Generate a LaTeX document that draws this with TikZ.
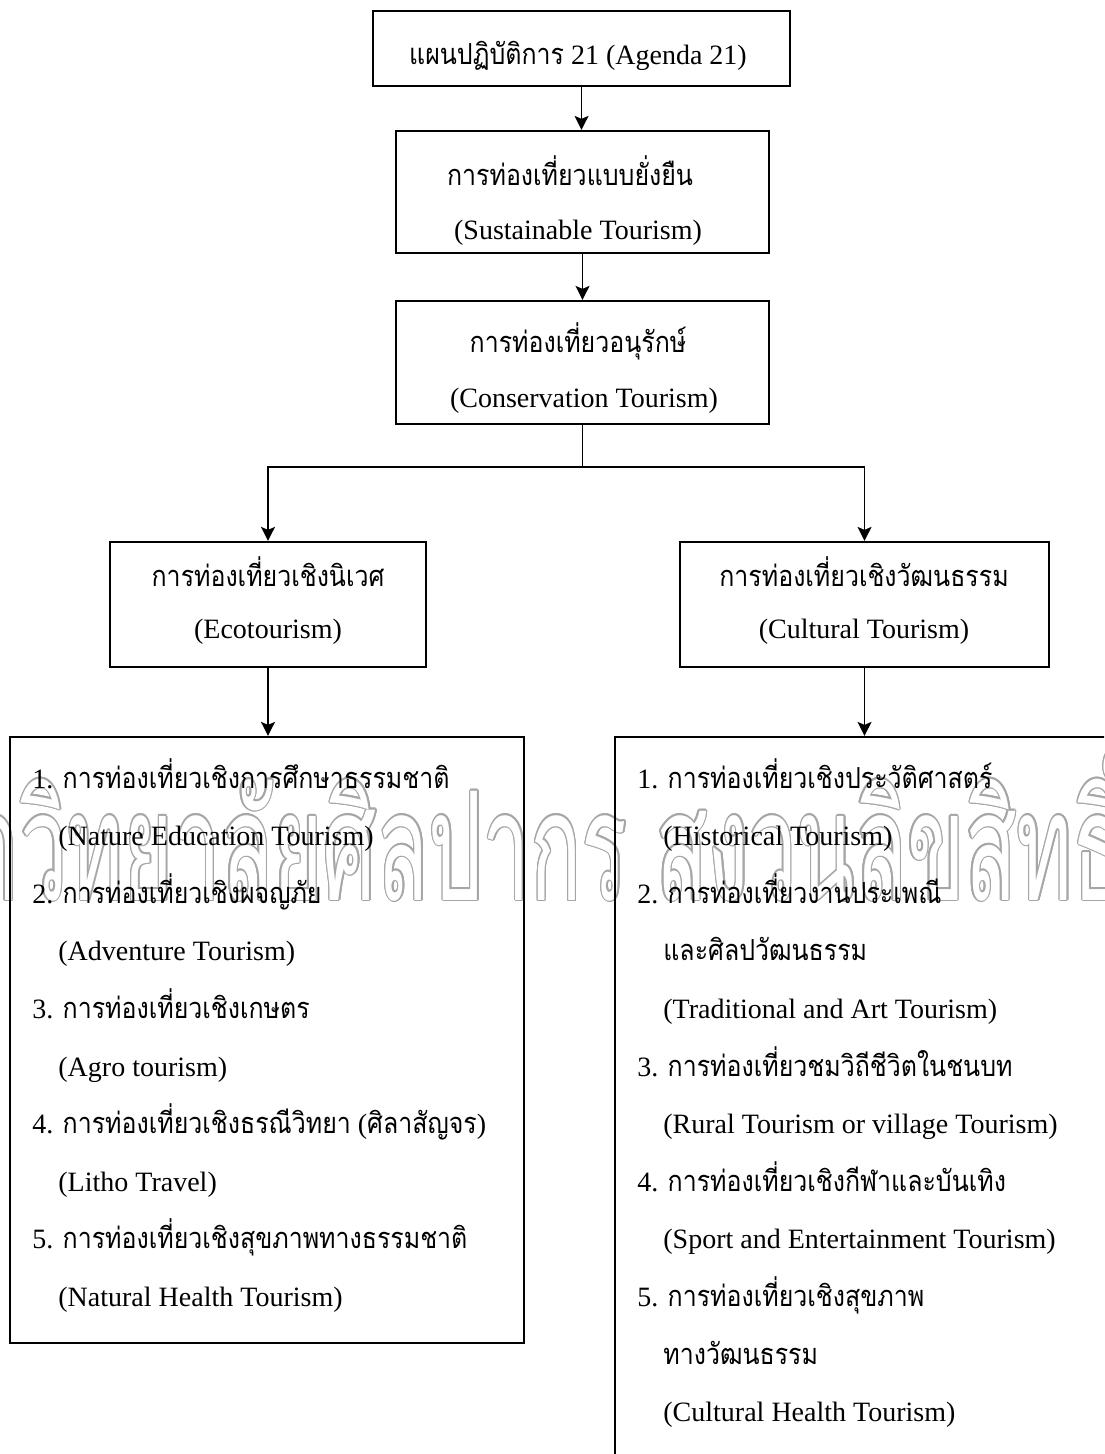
\documentclass[tikz,border=0pt]{standalone}
\usepackage{fontspec}
\usepackage{graphicx}
\setmainfont{Liberation Serif}
\newfontfamily\thaif[Script=Thai,FakeStretch=0.86]{Loma}
\newfontfamily\wmf[Script=Thai]{Loma}
\usetikzlibrary{arrows.meta}
\newcommand{\thtxt}[1]{{\thaif\fontsize{14.5}{17}\selectfont #1}}
\newcommand{\wmtext}{\resizebox{632pt}{80pt}{\wmf มหาวิทยาลัยศิลปากร สงวนลิขสิทธิ์}}
\tikzset{
 box/.style={draw, line width=1.1pt, rectangle, inner sep=0pt},
 conn/.style={line width=0.8pt},
 arr/.style={conn, -{Stealth[length=7pt,width=7pt,inset=1.5pt]}},
 txt/.style={inner sep=0pt, font=\fontsize{14}{17}\selectfont},
 ctxt/.style={txt, anchor=base},
 ltxt/.style={txt, anchor=base west},
 wmark/.style={inner sep=0pt, anchor=base west},
}
\begin{document}
\begin{tikzpicture}[x=0.5pt,y=-0.5pt]
\useasboundingbox (0,0) rectangle (1104,1454);
\clip (0,0) rectangle (1104,1454);
% watermark
\coordinate (wm) at (-140,900);
\foreach \a in {0,30,...,330} {
  \node[wmark, text=black!35, shift={(\a:0.7pt)}] at (wm) {\wmtext};
}
\node[wmark, text=white] (watermark) at (wm) {\wmtext};
% boxes
\node[box, minimum width=208.5pt, minimum height=37.5pt] (agenda) at (581.5,48.5) {};
\node[box, minimum width=186.5pt, minimum height=61pt] (sus) at (582.5,192) {};
\node[box, minimum width=186.5pt, minimum height=61.5pt] (con) at (582.5,362.5) {};
\coordinate (split) at (582.5,467);
\node[box, minimum width=158pt, minimum height=62.5pt] (eco) at (268,604.5) {};
\node[box, minimum width=184.5pt, minimum height=62.5pt] (cult) at (864.5,604.5) {};
\node[box, minimum width=257pt, minimum height=303pt] (ecolist) at (267,1040) {};
\node[box, minimum width=267.5pt, minimum height=381.5pt] (cultlist) at (882.5,1118.5) {};
% connectors
\draw[arr] (agenda.south) -- (agenda.south |- sus.north);
\draw[arr] (sus.south) -- (con.north);
\draw[conn] (con.south) -- (split);
\draw[arr] (split) -| (eco.north);
\draw[arr] (split) -| (cult.north);
\draw[arr] (eco.south) -- (eco.south |- ecolist.north);
\draw[arr] (cult.south) -- (cult.south |- cultlist.north);
% box texts
\node[ctxt] (t1) at (578,65) {\thtxt{แผนปฏิบัติการ} 21 (Agenda 21)};
\node[ctxt] (t2a) at (570,186) {\thtxt{การท่องเที่ยวแบบยั่งยืน}};
\node[ctxt] (t2b) at (578,240) {(Sustainable Tourism)};
\node[ctxt] (t3a) at (578,353) {\thtxt{การท่องเที่ยวอนุรักษ์}};
\node[ctxt] (t3b) at (584,408) {(Conservation Tourism)};
\node[ctxt] (t4a) at (268,586) {\thtxt{การท่องเที่ยวเชิงนิเวศ}};
\node[ctxt] (t4b) at (268,638) {(Ecotourism)};
\node[ctxt] (t5a) at (864,586) {\thtxt{การท่องเที่ยวเชิงวัฒนธรรม}};
\node[ctxt] (t5b) at (864,638) {(Cultural Tourism)};
% left list
\node[ltxt] (l0) at (32,788) {1. \thtxt{การท่องเที่ยวเชิงการศึกษาธรรมชาติ}};
\node[ltxt] (l1) at (58,845.6) {(Nature Education Tourism)};
\node[ltxt] (l2) at (32,903.2) {2. \thtxt{การท่องเที่ยวเชิงผจญภัย}};
\node[ltxt] (l3) at (58,960.8) {(Adventure Tourism)};
\node[ltxt] (l4) at (32,1018.4) {3. \thtxt{การท่องเที่ยวเชิงเกษตร}};
\node[ltxt] (l5) at (58,1076) {(Agro tourism)};
\node[ltxt] (l6) at (32,1133.6) {4. \thtxt{การท่องเที่ยวเชิงธรณีวิทยา} (\thtxt{ศิลาสัญจร})};
\node[ltxt] (l7) at (58,1191.2) {(Litho Travel)};
\node[ltxt] (l8) at (32,1248.8) {5. \thtxt{การท่องเที่ยวเชิงสุขภาพทางธรรมชาติ}};
\node[ltxt] (l9) at (58,1306.4) {(Natural Health Tourism)};
% right list
\node[ltxt] (r0) at (637,788) {1. \thtxt{การท่องเที่ยวเชิงประวัติศาสตร์}};
\node[ltxt] (r1) at (663,845.6) {(Historical Tourism)};
\node[ltxt] (r2) at (637,903.2) {2. \thtxt{การท่องเที่ยวงานประเพณี}};
\node[ltxt] (r3) at (663,960.8) {\thtxt{และศิลปวัฒนธรรม}};
\node[ltxt] (r4) at (663,1018.4) {(Traditional and Art Tourism)};
\node[ltxt] (r5) at (637,1076) {3. \thtxt{การท่องเที่ยวชมวิถีชีวิตในชนบท}};
\node[ltxt] (r6) at (663,1133.6) {(Rural Tourism or village Tourism)};
\node[ltxt] (r7) at (637,1191.2) {4. \thtxt{การท่องเที่ยวเชิงกีฬาและบันเทิง}};
\node[ltxt] (r8) at (663,1248.8) {(Sport and Entertainment Tourism)};
\node[ltxt] (r9) at (637,1306.4) {5. \thtxt{การท่องเที่ยวเชิงสุขภาพ}};
\node[ltxt] (r10) at (663,1364) {\thtxt{ทางวัฒนธรรม}};
\node[ltxt] (r11) at (663,1421.6) {(Cultural Health Tourism)};
\end{tikzpicture}
\end{document}
